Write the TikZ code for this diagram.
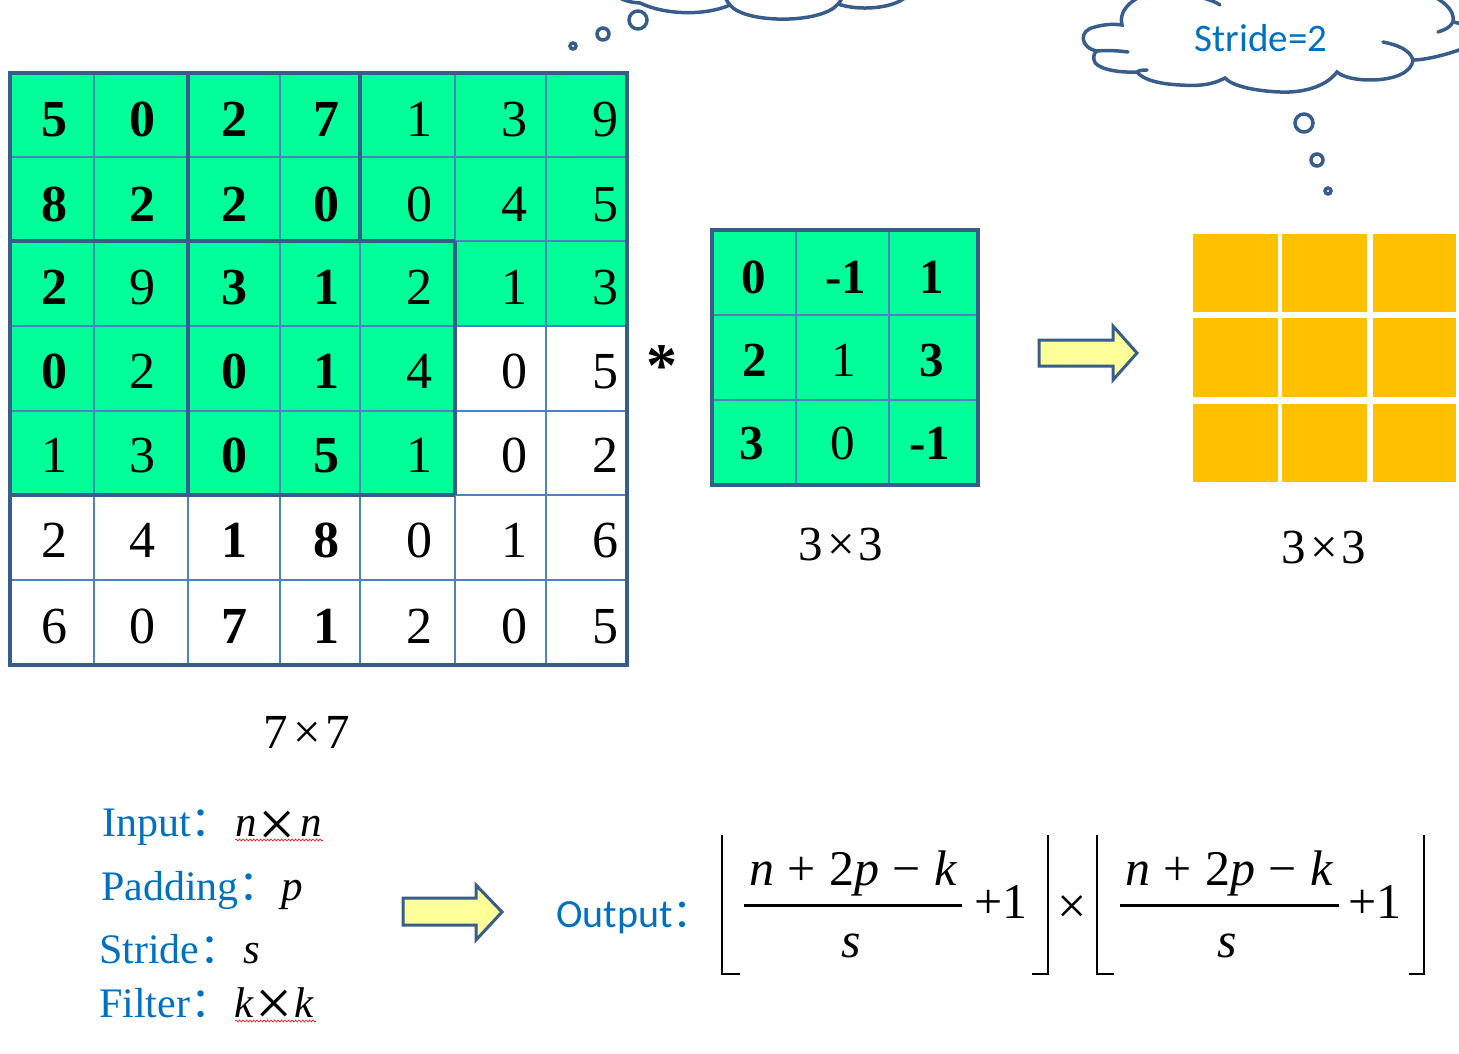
\documentclass[tikz,border=0pt]{standalone}
\usepackage{fontspec}
\setmainfont{Liberation Serif}
\newfontfamily\califont{Carlito}
\newfontfamily\cjkfont{Noto Sans CJK SC}
\usetikzlibrary{decorations.pathmorphing}
\definecolor{cellgreen}{RGB}{0,255,153}
\definecolor{gridblue}{RGB}{79,129,189}
\definecolor{frameblue}{RGB}{56,93,138}
\definecolor{cellorange}{RGB}{255,192,0}
\definecolor{arrowyellow}{RGB}{255,255,153}
\definecolor{textblue}{RGB}{0,112,192}
\newcommand{\wcolon}{{\cjkfont\makebox[0.4em][l]{：}}}
\begin{document}
\begin{tikzpicture}[x=1pt,y=-1pt,
  dn/.style={anchor=base, inner sep=0pt, font=\fontsize{52}{52}\selectfont},
  db/.style={anchor=base, inner sep=0pt, font=\fontsize{52}{52}\selectfont\bfseries},
  kn/.style={anchor=base, inner sep=0pt, font=\fontsize{49}{49}\selectfont},
  kb/.style={anchor=base, inner sep=0pt, font=\fontsize{49}{49}\selectfont\bfseries},
  gline/.style={draw=gridblue, line width=2pt},
  fline/.style={draw=frameblue, line width=3.5pt},
  cloudline/.style={draw=frameblue, line width=3.5pt, line cap=round},
  bigarrow/.style={draw=frameblue, fill=arrowyellow, line width=3pt, line join=miter},
  dimlabel/.style={anchor=base, inner sep=0pt, font=\fontsize{49}{49}\selectfont},
  bluelabel/.style={anchor=base west, inner sep=0pt, text=textblue, font=\fontsize{42}{42}\selectfont},
  mathlabel/.style={anchor=base west, inner sep=0pt, font=\fontsize{43}{43}\selectfont\itshape},
  crosslabel/.style={anchor=base, inner sep=0pt, font=\fontsize{66}{66}\selectfont},
  fml/.style={anchor=base, inner sep=0pt, font=\fontsize{50}{50}\selectfont},
  bracket/.style={draw=black, line width=2pt},
  fbar/.style={draw=black, line width=3pt},
  wavy/.style={draw=red, line width=0.6pt, decorate, decoration={snake, amplitude=1pt, segment length=3.5pt}},
  orangecell/.style={fill=cellorange}
]
\useasboundingbox (0,0) rectangle (1459,1054);
\clip (0,0) rectangle (1459,1054);

% ---------------- input grid 7x7 ----------------
\def\xs{{54,142,234,326,419,514,605}}
\fill[cellgreen] (10,73) rectangle (627,326);
\fill[cellgreen] (10,326) rectangle (455,495);
\foreach \x in {94,188,280,360,455,546} \draw[gline] (\x,73) -- (\x,665);
\foreach \y in {157,241,326,411,495,580} \draw[gline] (10,\y) -- (627,\y);
\draw[fline] (188,73) -- (188,495);
\draw[fline] (360,73) -- (360,241);
\draw[fline] (10,241) -- (455,241);
\draw[fline] (455,241) -- (455,495);
\draw[fline] (10,495) -- (455,495);
\draw[fline] (10,73) rectangle (627,665);

\foreach \v/\s [count=\c from 0] in {5/db,0/db,2/db,7/db,1/dn,3/dn,9/dn}
  \node[\s] (ga\c) at ({\xs[\c]},137) {\v};
\foreach \v/\s [count=\c from 0] in {8/db,2/db,2/db,0/db,0/dn,4/dn,5/dn}
  \node[\s] (gb\c) at ({\xs[\c]},221) {\v};
\foreach \v/\s [count=\c from 0] in {2/db,9/dn,3/db,1/db,2/dn,1/dn,3/dn}
  \node[\s] (gc\c) at ({\xs[\c]},304) {\v};
\foreach \v/\s [count=\c from 0] in {0/db,2/dn,0/db,1/db,4/dn,0/dn,5/dn}
  \node[\s] (gd\c) at ({\xs[\c]},388) {\v};
\foreach \v/\s [count=\c from 0] in {1/dn,3/dn,0/db,5/db,1/dn,0/dn,2/dn}
  \node[\s] (ge\c) at ({\xs[\c]},472) {\v};
\foreach \v/\s [count=\c from 0] in {2/dn,4/dn,1/db,8/db,0/dn,1/dn,6/dn}
  \node[\s] (gf\c) at ({\xs[\c]},557) {\v};
\foreach \v/\s [count=\c from 0] in {6/dn,0/dn,7/db,1/db,2/dn,0/dn,5/dn}
  \node[\s] (gg\c) at ({\xs[\c]},643) {\v};

\node[dimlabel] (lab77) at (307,748) {7\hspace{0.1em}×\hspace{0.1em}7};

% ---------------- star ----------------
\node[anchor=base, inner sep=0pt, font=\fontsize{62}{62}\selectfont\bfseries] (star) at (662,386) {*};

% ---------------- kernel ----------------
\fill[cellgreen] (712,230) rectangle (978,485);
\foreach \x in {796,889} \draw[gline] (\x,230) -- (\x,485);
\foreach \y in {315,400} \draw[gline] (712,\y) -- (978,\y);
\draw[fline] (712,230) rectangle (978,485);
\node[kb] (k00) at (754,293) {0};
\node[kb] (k01) at (846,293) {-1};
\node[kb] (k02) at (932,293) {1};
\node[kb] (k10) at (755,376) {2};
\node[kn] (k11) at (844,376) {1};
\node[kb] (k12) at (932,376) {3};
\node[kb] (k20) at (752,459) {3};
\node[kn] (k21) at (843,459) {0};
\node[kb] (k22) at (930,459) {-1};
\node[dimlabel] (lab33a) at (841,560) {3\hspace{0.08em}×\hspace{0.08em}3};

% ---------------- arrow 1 ----------------
\draw[bigarrow] (1039,340) -- (1113,340) -- (1113,326) -- (1137,353) -- (1113,380) -- (1113,366) -- (1039,366) -- cycle;

% ---------------- output grid ----------------
\foreach \xa/\xb in {1193/1278,1282/1367,1373/1456}
  \foreach \ya/\yb in {234/312,318/397,404/482}
    \fill[orangecell] (\xa,\ya) rectangle (\xb,\yb);
\node[dimlabel] (lab33b) at (1324,563) {3\hspace{0.08em}×\hspace{0.08em}3};

% ---------------- clouds ----------------
% left cloud (mostly above the picture)
\draw[cloudline] (605,-20) .. controls (610,-5) and (622,2) .. (640,3)
  .. controls (665,15) and (705,16) .. (730,5)
  .. controls (745,24) and (822,24) .. (838,4)
  .. controls (858,11) and (892,9) .. (906,-3);
\draw[cloudline] (730,5) .. controls (728,3) and (727,1) .. (726,-1);
\draw[cloudline] (838,4) .. controls (840,2) and (841,0) .. (842,-2);
\draw[cloudline] (573,46) circle (3pt);
\draw[cloudline] (603,34) circle (6pt);
\draw[cloudline] (638,20) circle (9pt);

% right cloud
\draw[cloudline] (1097,51) .. controls (1080,48) and (1078,30) .. (1095,27)
  .. controls (1105,24) and (1115,24) .. (1122,25)
  .. controls (1118,8) and (1135,-5) .. (1165,-12)
  -- (1410,-12)
  .. controls (1440,-5) and (1456,10) .. (1453,22)
  .. controls (1475,25) and (1480,45) .. (1459,50)
  .. controls (1445,55) and (1425,60) .. (1413,60)
  .. controls (1412,72) and (1395,80) .. (1370,80)
  .. controls (1355,80) and (1343,77) .. (1337,72)
  .. controls (1325,88) and (1300,93) .. (1280,92)
  .. controls (1255,91) and (1232,86) .. (1225,78)
  .. controls (1210,86) and (1195,86) .. (1180,85)
  .. controls (1160,84) and (1143,80) .. (1137,72)
  .. controls (1115,73) and (1095,68) .. (1094,60)
  .. controls (1093,55) and (1095,52) .. (1097,51);
\draw[cloudline] (1097,51) .. controls (1110,50) and (1120,51) .. (1128,52);
\draw[cloudline] (1137,72) .. controls (1140,70) and (1144,70) .. (1147,70);
\draw[cloudline] (1383,42) .. controls (1398,45) and (1410,50) .. (1413,60);
\draw[cloudline] (1453,22) .. controls (1450,28) and (1444,30) .. (1438,32);
\draw[cloudline] (1200,-3) .. controls (1210,0) and (1216,2) .. (1220,5);
\node[inner sep=0pt, text=textblue, font=\califont\fontsize{39}{39}\selectfont] (stride) at (1261,38) {Stride=2};
\draw[cloudline] (1304,123) circle (9pt);
\draw[cloudline] (1317,160) circle (6pt);
\draw[cloudline] (1328,191) circle (3pt);

% ---------------- bottom-left definitions ----------------
\node[bluelabel] (inp) at (102,836) {Input\wcolon};
\node[mathlabel] (inpn1) at (235,836) {n};
\node[crosslabel] (inpx) at (277,846) {×};
\node[mathlabel] (inpn2) at (300,836) {n};
\draw[wavy] (235,840) -- (323,840);

\node[bluelabel] (pad) at (101,900) {Padding\wcolon};
\node[mathlabel] (padp) at (281,900) {p};

\node[bluelabel] (str) at (99,963) {Stride\wcolon};
\node[mathlabel] (strs) at (243,963) {s};

\node[bluelabel] (fil) at (99,1017) {Filter\wcolon};
\node[mathlabel] (filk1) at (234,1017) {k};
\node[crosslabel] (filx) at (274,1025) {×};
\node[mathlabel] (filk2) at (294,1017) {k};
\draw[wavy] (235,1021) -- (316,1021);

% ---------------- arrow 2 ----------------
\draw[bigarrow] (403,898) -- (476,898) -- (476,885) -- (502,912) -- (476,940) -- (476,925) -- (403,925) -- cycle;

% ---------------- output formula ----------------
\node[anchor=base west, inner sep=0pt, text=textblue, font=\califont\fontsize{40}{40}\selectfont] (outl) at (556,927) {Output{\cjkfont ：}};

\draw[bracket] (740,974) -- (722,974) -- (722,835);
\node[fml] (num1) at (853,885) {{\itshape n}\hspace{0.27em}+\hspace{0.27em}2{\itshape p}\hspace{0.27em}−\hspace{0.27em}{\itshape k}};
\draw[fbar] (744,905) -- (962,905);
\node[fml] (den1) at (851,957) {\itshape s};
\node[fml, anchor=base west] (one1) at (974,918) {+1};
\draw[bracket] (1032,974) -- (1048,974) -- (1048,835);

\node[anchor=base, inner sep=0pt, font=\fontsize{52}{52}\selectfont] (times) at (1072,923) {×};

\draw[bracket] (1114,974) -- (1097,974) -- (1097,835);
\node[fml] (num2) at (1229,885) {{\itshape n}\hspace{0.27em}+\hspace{0.27em}2{\itshape p}\hspace{0.27em}−\hspace{0.27em}{\itshape k}};
\draw[fbar] (1120,905) -- (1339,905);
\node[fml] (den2) at (1227,957) {\itshape s};
\node[fml, anchor=base west] (one2) at (1348,918) {+1};
\draw[bracket] (1409,974) -- (1424,974) -- (1424,835);
\end{tikzpicture}
\end{document}
